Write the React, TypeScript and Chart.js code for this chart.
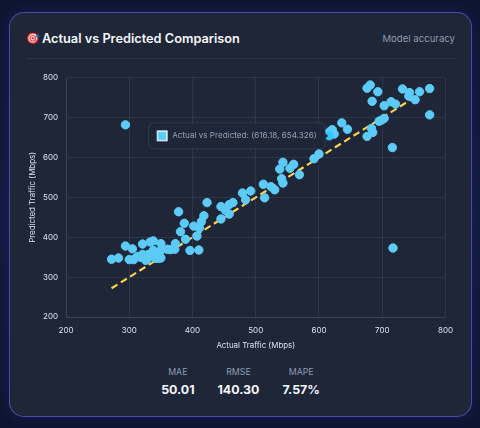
import React, { useEffect, useRef } from "react";
import { Chart, registerables } from "chart.js";

Chart.register(...registerables);

const FONT = "Inter, sans-serif";

const actualTraffic = [
  272, 283, 294, 305, 300, 307, 313, 321, 321, 326, 330, 333, 338, 338, 341, 346, 350, 350, 350,
  318, 328, 335, 343, 360, 365, 372, 373, 389, 381, 387, 378, 396, 410, 407, 402, 411, 414, 418,
  423, 445, 445, 452, 458, 458, 464, 479, 484, 492, 514, 512, 524, 530, 538, 543, 541, 543, 554,
  560, 569, 592, 600, 616.18, 621, 624, 617, 636, 645, 676, 683, 685, 676, 681, 693, 684, 703,
  714, 721, 695, 699, 703, 716, 732, 743, 742, 752, 759, 775, 775, 717, 294,
];

const predictedTraffic = [
  345, 348, 378, 371, 344, 344, 352, 383, 357, 342, 357, 388, 391, 367, 347, 347, 348, 384, 367,
  350, 345, 360, 352, 370, 369, 370, 384, 395, 414, 435, 464, 367, 368, 403, 428, 423, 439, 454,
  487, 446, 477, 468, 458, 482, 487, 511, 494, 516, 499, 533, 527, 519, 571, 588, 547, 536, 573,
  583, 557, 597, 609, 654.326, 670, 659, 665, 687, 671, 653, 673, 663, 774, 782, 765, 741, 730,
  740, 734, 691, 694, 698, 625, 772, 763, 754, 745, 765, 773, 707, 373, 682,
];

const lineActual = [272, 752];
const linePredicted = [272, 752];

const xTicks = [200, 300, 400, 500, 600, 700, 800];
const yTicks = [200, 300, 400, 500, 600, 700, 800];
const activeValue = 616.18;

const stats = [
  { label: "MAE", value: "50.01" },
  { label: "RMSE", value: "140.30" },
  { label: "MAPE", value: "7.57%" },
];

export default function App() {
  const ref = useRef<HTMLCanvasElement | null>(null);

  useEffect(() => {
    document.body.style.margin = "0";
    document.body.style.background = "#0d1430";
    const canvas = ref.current;
    if (!canvas) return;
    const chart = new Chart(canvas, {
      type: "scatter",
      data: {
        datasets: [
          {
            label: "Actual vs Predicted",
            data: actualTraffic.map((x, i) => ({ x, y: predictedTraffic[i] })),
            backgroundColor: "#5ccbf7",
            borderColor: "#5ccbf7",
            pointRadius: 4.2,
            pointHoverRadius: 4.2,
            order: 1,
          },
          {
            type: "line",
            label: "Ideal",
            data: lineActual.map((x, i) => ({ x, y: linePredicted[i] })),
            borderColor: "#fbd050",
            borderWidth: 2.2,
            borderDash: [7, 4],
            pointRadius: 0,
            fill: false,
            order: 2,
          },
        ],
      },
      options: {
        responsive: false,
        animation: false,
        layout: { padding: { top: 7, right: 0, left: 0, bottom: 0 } },
        plugins: {
          legend: { display: false },
          tooltip: {
            filter: (item) => item.datasetIndex === 0,
            xAlign: "right",
            yAlign: "center",
            caretSize: 3,
            caretPadding: 1,
            backgroundColor: "rgba(30,38,56,0.92)",
            borderColor: "rgba(148,163,184,0.16)",
            borderWidth: 1,
            cornerRadius: 6,
            padding: { x: 8.5, y: 8 },
            bodyColor: "#94a3b8",
            bodyFont: { family: FONT, size: 8.15 },
            boxWidth: 10,
            boxHeight: 10,
            boxPadding: 3,
            callbacks: {
              labelColor: () => ({ borderColor: "#bfe9fb", backgroundColor: "#5ccbf7" }),
            },
          },
        },
        scales: {
          x: {
            type: "linear",
            min: 200,
            max: 800,
            afterBuildTicks: (s) => { s.ticks = xTicks.map((value) => ({ value })); },
            afterFit: (s) => { s.height = 33; },
            grid: { color: "rgba(148,163,184,0.13)", drawTicks: false },
            border: { color: "rgba(148,163,184,0.13)" },
            ticks: { color: "#dbe2ec", font: { family: FONT, size: 8 }, padding: 9 },
            title: { display: true, text: "Actual Traffic (Mbps)", color: "#dbe2ec", font: { family: FONT, size: 7.9 }, padding: { top: 2, bottom: 0 } },
          },
          y: {
            type: "linear",
            min: 200,
            max: 800,
            afterBuildTicks: (s) => { s.ticks = yTicks.map((value) => ({ value })); },
            afterFit: (s) => { s.width = 40; },
            grid: { color: "rgba(148,163,184,0.13)", drawTicks: false },
            border: { color: "rgba(148,163,184,0.13)" },
            ticks: { color: "#dbe2ec", font: { family: FONT, size: 8 }, padding: 8 },
            title: { display: true, text: "Predicted Traffic (Mbps)", color: "#dbe2ec", font: { family: FONT, size: 7.9 }, padding: { top: 2, bottom: 2 } },
          },
        },
      },
    });
    const idx = actualTraffic.indexOf(activeValue);
    const active = [{ datasetIndex: 0, index: idx }];
    const el = chart.getDatasetMeta(0).data[idx];
    chart.setActiveElements(active);
    chart.tooltip?.setActiveElements(active, { x: el.x, y: el.y });
    chart.update();
    return () => chart.destroy();
  }, []);

  return (
    <div style={{ position: "relative", width: 480, height: 428, overflow: "hidden", fontFamily: FONT, background: "linear-gradient(180deg,#0e1530 0%,#121a3e 50%,#0e1530 100%)" }}>
      <div style={{ position: "absolute", left: 9, top: 12, width: 463, height: 405, boxSizing: "border-box", borderRadius: 15, border: "1.5px solid rgba(99,102,241,0.62)", background: "#1e2638", boxShadow: "0 0 16px rgba(60,60,180,0.22)" }} />
      <div style={{ position: "absolute", left: 26, top: 30, fontSize: 11, lineHeight: "17px" }}>🎯</div>
      <div style={{ position: "absolute", left: 42, top: 30, fontSize: 12.75, fontWeight: 600, color: "#f4f6fa", lineHeight: "18px", whiteSpace: "nowrap" }}>Actual vs Predicted Comparison</div>
      <div style={{ position: "absolute", right: 25, top: 32, fontSize: 9.6, color: "#8f9bb0", lineHeight: "14px" }}>Model accuracy</div>
      <div style={{ position: "absolute", left: 26, top: 58, width: 429, height: 1, background: "rgba(148,163,184,0.14)" }} />
      <canvas ref={ref} width={436} height={285} style={{ position: "absolute", left: 26, top: 65, width: 436, height: 285 }} />
      <div style={{ position: "absolute", left: 0, top: 366, width: 481, display: "flex", justifyContent: "center", gap: 23 }}>
        {stats.map((s) => (
          <div key={s.label} style={{ textAlign: "center" }}>
            <div style={{ fontSize: 8.8, color: "#8f9bb0", lineHeight: "12px" }}>{s.label}</div>
            <div style={{ fontSize: 12.4, fontWeight: 700, color: "#f4f6fa", lineHeight: "18px", marginTop: 3 }}>{s.value}</div>
          </div>
        ))}
      </div>
    </div>
  );
}
